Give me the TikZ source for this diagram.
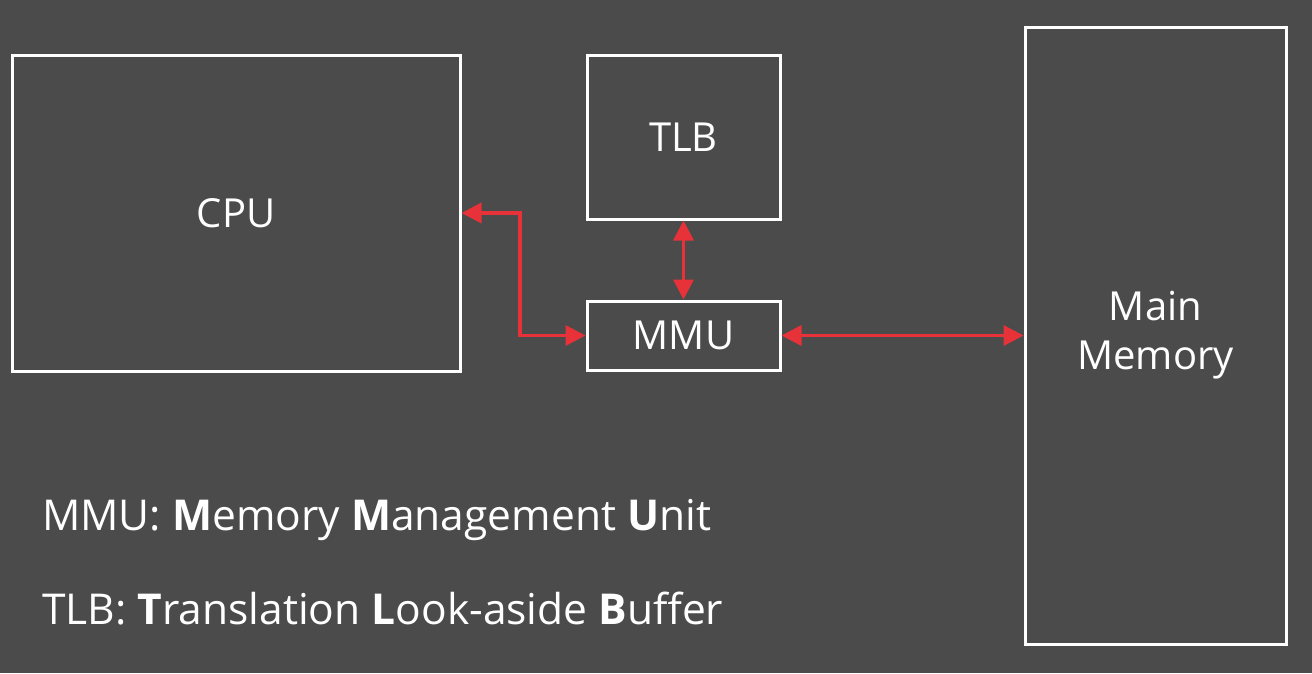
\documentclass[tikz,border=0pt]{standalone}
\usepackage{fontspec}
\setmainfont{Open Sans}
\usetikzlibrary{arrows.meta}
\definecolor{slidebg}{HTML}{4B4B4B}
\definecolor{linkred}{HTML}{E8323A}
\begin{document}
\begin{tikzpicture}[x=1pt, y=-1pt,
    unit/.style={draw=white, line width=3pt, inner sep=0pt, text=white,
        font=\fontsize{40}{49}\selectfont, align=center},
    link/.style={linkred, line width=3.5pt,
        {Triangle[length=20pt, width=20pt]}-{Triangle[length=20pt, width=20pt]}},
    legend/.style={anchor=base west, text=white, inner sep=0pt,
        font=\fontsize{42.5}{48}\selectfont}]
    \useasboundingbox[fill=slidebg] (0,0) rectangle (1312,673);
    % boxes
    \node[unit, minimum width=448pt, minimum height=316pt] (cpu) at (236,213) {CPU};
    \node[unit, minimum width=193pt, minimum height=164pt] (tlb) at (683.5,137) {TLB};
    \node[unit, minimum width=193pt, minimum height=69pt] (mmu) at (683.5,335.5) {MMU};
    \node[unit, minimum width=261pt, minimum height=617pt] (mem) at (1155.5,335.5) {Main\\Memory};
    % links
    \coordinate (bend) at (520,213);
    \draw[link] (cpu.east |- bend) -- (bend) |- (mmu.west);
    \draw[link] (tlb.south) -- (mmu.north);
    \draw[link] (mmu.east) -- (mem.west |- mmu.east);
    % legend
    \node[legend] (mmutext) at (42,530) {MMU: \textbf{M}emory \textbf{M}anagement \textbf{U}nit};
    \node[legend] (tlbtext) at (42,624) {TLB: \textbf{T}ranslation \textbf{L}ook-aside \textbf{B}uffer};
\end{tikzpicture}
\end{document}
